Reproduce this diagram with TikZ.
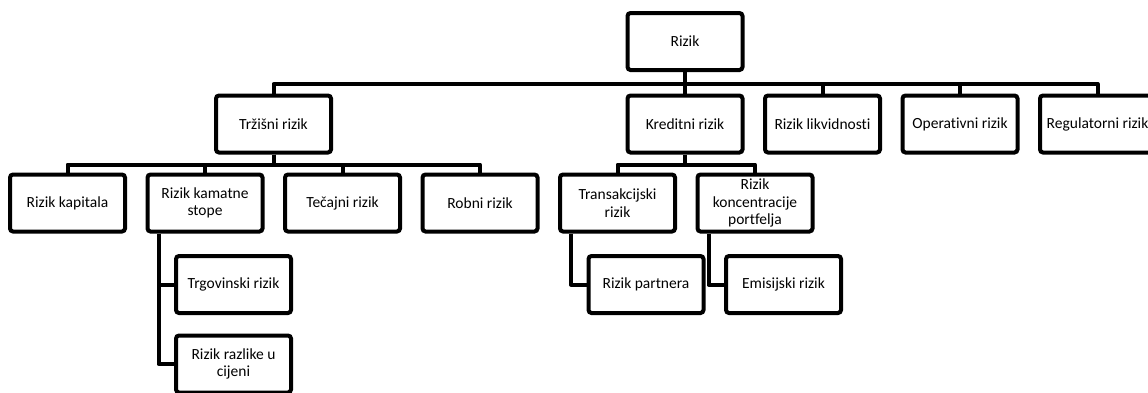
\documentclass[tikz,border=0pt]{standalone}
\usepackage{fontspec}
\setmainfont{Carlito}[Ligatures=NoCommon]
\usetikzlibrary{positioning}
\tikzstyle{branch} = [line width=4pt, line join=round]
\tikzset{every node/.style={align=center}}

\begin{document}
\begin{tikzpicture}[x=1pt, y=-1pt,
    risk/.style={rectangle, rounded corners=3pt, draw, line width=4pt, fill=white,
                 minimum width=115pt, minimum height=57pt, inner sep=1pt,
                 font=\fontsize{15.5}{17.5}\selectfont}
]
  \useasboundingbox (0,0) rectangle (1148,392);

  % --- Root ---
  \node[risk] (RIZ) at (685, 41.5) {Rizik};

  % --- Level 1 ---
  \node[risk] (TRZ) at (273.5, 124) {Tržišni rizik};
  \node[risk] (KRE) at (685,   124) {Kreditni rizik};
  \node[risk] (LIK) at (822.5, 124) {Rizik likvidnosti};
  \node[risk] (OPE) at (960,   124) {Operativni rizik};
  \node[risk] (REG) at (1097.5,124) {Regulatorni rizik};
  \foreach \n in {TRZ, KRE, LIK, OPE, REG}
    \draw[branch] (RIZ.south) -- ++(0,12) -| (\n.north);

  % --- Market risk group ---
  \node[risk] (KAP) at (67.5,  203) {Rizik kapitala};
  \node[risk] (KAM) at (205,   203) {Rizik kamatne\\stope};
  \node[risk] (TEC) at (342.5, 203) {Tečajni rizik};
  \node[risk] (ROB) at (480,   203) {Robni rizik};
  \foreach \n in {KAP, KAM, TEC, ROB}
    \draw[branch] (TRZ.south) -- ++(0,10) -| (\n.north);

  \node[risk] (TRG) at (233.5, 284.5) {Trgovinski rizik};
  \node[risk] (RAZ) at (233.5, 364)   {Rizik razlike u\\cijeni};
  \draw[branch] ([xshift=13pt]KAM.south west) |- (TRG.west);
  \draw[branch] ([xshift=13pt]KAM.south west) |- (RAZ.west);

  % --- Credit risk group ---
  \node[risk] (TRA) at (617.5, 203) {Transakcijski\\rizik};
  \node[risk] (KON) at (755,   203) {Rizik\\koncentracije\\portfelja};
  \foreach \n in {TRA, KON}
    \draw[branch] (KRE.south) -- ++(0,10) -| (\n.north);

  \node[risk] (PAR) at (646,   284.5) {Rizik partnera};
  \node[risk] (EMI) at (783.5, 284.5) {Emisijski rizik};
  \draw[branch] ([xshift=13pt]TRA.south west) |- (PAR.west);
  \draw[branch] ([xshift=13pt]KON.south west) |- (EMI.west);
\end{tikzpicture}
\end{document}
